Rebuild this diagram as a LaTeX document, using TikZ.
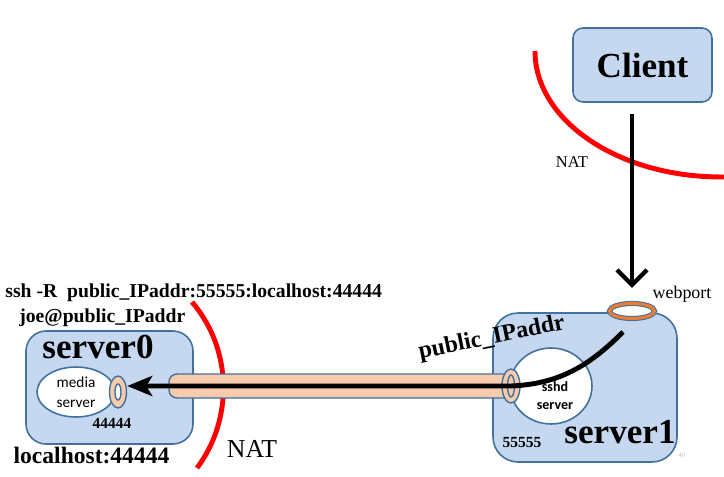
\documentclass[tikz,border=0pt]{standalone}
\usepackage{fontspec}
\setmainfont{Liberation Serif}
\newfontfamily\calibri{Carlito}
\usetikzlibrary{arrows.meta, shapes.geometric, positioning}
\definecolor{boxfill}{RGB}{198,216,240}
\definecolor{boxline}{RGB}{65,113,156}
\definecolor{peach}{RGB}{248,203,173}
\definecolor{portorange}{RGB}{237,125,49}
\tikzset{
    host/.style={draw=boxline, fill=boxfill, line width=0.9pt, rounded corners=#1},
    host/.default=0.4cm,
    proc/.style={ellipse, draw=boxline, fill=white, line width=0.9pt, inner sep=0pt},
    port/.style={ellipse, draw=boxline, fill=peach, line width=0.8pt, inner sep=0pt},
    hole/.style={ellipse, draw=boxline, fill=white, line width=0.8pt, inner sep=0pt},
    tube/.style={draw=boxline, fill=peach, line width=0.8pt, rounded corners=0.16cm},
    nat/.style={draw=red, line width=2.8pt},
    big/.style={font=\fontsize{20}{22}\selectfont\bfseries},
    num/.style={font=\fontsize{8.8}{10}\selectfont\bfseries},
}

\begin{document}
\begin{tikzpicture}[x=0.02cm, y=-0.02cm]
    \useasboundingbox (0,0) rectangle (724,477);

    \draw[nat] (535,51) arc[start angle=180, end angle=270, x radius=3.72cm, y radius=2.52cm] -- ++(20,0);
    \draw[nat] (192,302) .. controls (233,350) and (233,420) .. (197,468);

    \node[host=0.2cm, minimum width=2.78cm, minimum height=1.48cm, big] (client) at (642.5,65) {Client};
    \node[host, minimum width=3.34cm, minimum height=2.26cm] (server0) at (109.5,387.5) {};
    \node[host=0.5cm, minimum width=3.68cm, minimum height=2.98cm] (server1) at (585,387.5) {};
    \node[big, anchor=base] (name0) at (98,358) {server0};
    \node[big, anchor=base] (name1) at (620,443) {server1};

    \node[proc, minimum width=1.56cm, minimum height=1cm, align=center,
          font=\calibri\fontsize{8.7}{11.3}\selectfont] (media) at (76,392) {media\\server};
    \node[proc, minimum width=1.64cm, minimum height=1.52cm] (sshd) at (551,386) {};
    \node[align=center, font=\calibri\bfseries\fontsize{8}{10.2}\selectfont] (sshdtext) at (555,396) {sshd\\server};

    \draw[tube] (169,374) rectangle (512,398);
    \node[port, minimum width=0.34cm, minimum height=0.64cm] (port0) at (118,392) {};
    \node[hole, minimum width=0.12cm, minimum height=0.32cm] (hole0) at (port0) {};
    \node[port, minimum width=0.36cm, minimum height=0.68cm] (port1) at (511,386) {};
    \node[hole, fill=peach, minimum width=0.14cm, minimum height=0.44cm] (hole1) at (port1) {};
    \node[ellipse, inner sep=0pt, minimum width=0.9cm, minimum height=0.3cm, fill=white,
          draw=boxline, line width=0.6pt, double=portorange, double distance=1.7pt] (webport) at (632,311) {};

    \node[num, anchor=base] (p44444) at (112,428) {44444};
    \node[num, anchor=base] (p55555) at (522,447) {55555};
    \node[font=\fontsize{10.2}{12}\selectfont, anchor=base] (weblabel) at (682,298) {webport};
    \node[font=\fontsize{9.4}{11}\selectfont, anchor=base] (nat1) at (572,167) {NAT};
    \node[font=\fontsize{14.7}{16}\selectfont, anchor=base] (nat0) at (252,457) {NAT};
    \node[font=\bfseries\fontsize{11.2}{13}\selectfont, anchor=base west, inner sep=0pt] (cmd) at (5,297) {ssh -R\ \ public\_IPaddr:55555:localhost:44444};
    \node[font=\bfseries\fontsize{11.2}{13}\selectfont, anchor=base west, inner sep=0pt] (login) at (19,322) {joe@public\_IPaddr};
    \node[font=\bfseries\fontsize{13.4}{15}\selectfont, anchor=base] (local) at (91.5,463) {localhost:44444};
    \node[font=\bfseries\fontsize{13.6}{15}\selectfont, anchor=base, rotate=11.5] (pubip) at (493,344) {public\_IPaddr};
    \node[font=\fontsize{4}{5}\selectfont, text=gray!50] (pagenum) at (682,455) {40};

    \coordinate (down) at (client.south -| webport.north);
    \draw[line width=2.5pt, -{Straight Barb[length=0.3cm, width=0.6cm]}] ([yshift=-0.22cm]down) -- ([yshift=0.3cm]webport.north);
    \draw[line width=2.8pt, -{Stealth[length=0.5cm, width=0.4cm, inset=0.12cm]}]
        ([xshift=-0.18cm, yshift=-0.42cm]webport.center) .. controls (590,365) and (560,384) .. (port1.center) -- (port0.east |- port1.center);

\end{tikzpicture}
\end{document}
